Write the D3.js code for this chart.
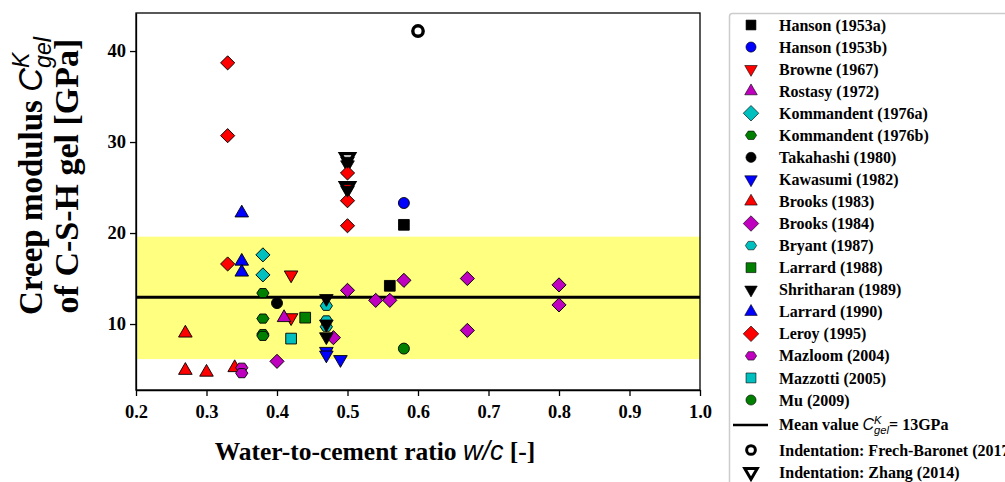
<!DOCTYPE html>
<html><head><meta charset="utf-8">
<script src="https://cdn.jsdelivr.net/npm/d3@7"></script>
<style>body{margin:0;background:#fff}svg{display:block}</style>
</head><body>
<svg id="c" width="1005" height="482"></svg>
<script>
// ---- data ----
const hanson1953a = [[0.56,14.2],[0.58,20.9]];
const hanson1953b = [[0.58,23.3]];
const browne1967 = [[0.42,15.4],[0.42,10.7],[0.5,24.9]];
const rostasy1972 = [[0.41,10.7]];
const kommandent1976a = [[0.38,17.6],[0.38,15.4]];
const kommandent1976b = [[0.38,13.4],[0.38,10.6],[0.38,8.9],[0.38,8.7]];
const takahashi1980 = [[0.4,12.3]];
const kawasumi1982 = [[0.47,7.0],[0.47,6.6],[0.49,6.1]];
const brooks1983 = [[0.27,9.0],[0.27,4.9],[0.3,4.7],[0.34,5.2]];
const brooks1984 = [[0.4,5.9],[0.48,8.5],[0.5,13.7],[0.54,12.6],[0.56,12.6],[0.58,14.8],[0.67,15.0],[0.67,9.3],[0.8,14.3],[0.8,12.1]];
const bryant1987 = [[0.47,12.0],[0.47,10.4],[0.47,9.7]];
const larrard1988 = [[0.44,10.7]];
const shritharan1989 = [[0.47,12.8],[0.47,10.0],[0.47,8.6],[0.5,27.9],[0.5,27.5],[0.5,24.7]];
const larrard1990 = [[0.35,22.2],[0.35,16.9],[0.35,15.7]];
const leroy1995 = [[0.33,38.7],[0.33,30.7],[0.33,16.6],[0.5,26.6],[0.5,23.55],[0.5,20.8]];
const mazloom2004 = [[0.35,5.2],[0.35,4.6]];
const mazzotti2005 = [[0.42,8.4]];
const mu2009 = [[0.58,7.3]];
const frechBaronet2017 = [[0.6,42.2]];
const zhang2014 = [[0.5,28.3],[0.5,25.1]];
const meanValue = 12.95;
const bandRange = [6.15, 19.6];
const xTicks = [0.2,0.3,0.4,0.5,0.6,0.7,0.8,0.9,1.0];
const yTicks = [10,20,30,40];
const xDomain = [0.2, 1.0];
const yDomain = [2.75, 44.18];

const series = [
  {name:"Hanson (1953a)", data:hanson1953a, shape:"square", color:"#000000"},
  {name:"Hanson (1953b)", data:hanson1953b, shape:"circle", color:"#0000ff"},
  {name:"Browne (1967)", data:browne1967, shape:"down", color:"#ff0000"},
  {name:"Rostasy (1972)", data:rostasy1972, shape:"up", color:"#bf00bf"},
  {name:"Kommandent (1976a)", data:kommandent1976a, shape:"diamond", color:"#00bfbf"},
  {name:"Kommandent (1976b)", data:kommandent1976b, shape:"hex", color:"#007f00"},
  {name:"Takahashi (1980)", data:takahashi1980, shape:"circle", color:"#000000"},
  {name:"Kawasumi (1982)", data:kawasumi1982, shape:"down", color:"#0000ff"},
  {name:"Brooks (1983)", data:brooks1983, shape:"up", color:"#ff0000"},
  {name:"Brooks (1984)", data:brooks1984, shape:"diamond", color:"#bf00bf"},
  {name:"Bryant (1987)", data:bryant1987, shape:"hex", color:"#00bfbf"},
  {name:"Larrard (1988)", data:larrard1988, shape:"square", color:"#007f00"},
  {name:"Shritharan (1989)", data:shritharan1989, shape:"down", color:"#000000"},
  {name:"Larrard (1990)", data:larrard1990, shape:"up", color:"#0000ff"},
  {name:"Leroy (1995)", data:leroy1995, shape:"diamond", color:"#ff0000"},
  {name:"Mazloom (2004)", data:mazloom2004, shape:"hex", color:"#bf00bf"},
  {name:"Mazzotti (2005)", data:mazzotti2005, shape:"square", color:"#00bfbf"},
  {name:"Mu (2009)", data:mu2009, shape:"circle", color:"#007f00"}
];
const openSeries = [
  {name:"Indentation: Frech-Baronet (2017)", data:frechBaronet2017, shape:"circle"},
  {name:"Indentation: Zhang (2014)", data:zhang2014, shape:"down"}
];

// ---- layout ----
const svg = d3.select("#c");
const m = {left:136, right:700, top:13, bottom:390};
const x = d3.scaleLinear().domain(xDomain).range([m.left, m.right]);
const y = d3.scaleLinear().domain(yDomain).range([m.bottom, m.top]);

const hexType = {draw(ctx, size){
  const r = Math.sqrt(size*2/(3*Math.sqrt(3)));
  for(let i=0;i<6;i++){const a=i*Math.PI/3; const px=r*Math.cos(a)*1.1, py=r*Math.sin(a)*0.95; i?ctx.lineTo(px,py):ctx.moveTo(px,py);}
  ctx.closePath();
}};
function symPath(shape, scale){
  const s = scale||1;
  switch(shape){
    case "square": return d3.symbol(d3.symbolSquare, 115*s)();
    case "circle": return d3.symbol(d3.symbolCircle, 95*s)();
    case "up": return d3.symbol(d3.symbolTriangle, 80*s)();
    case "down": return d3.symbol(d3.symbolTriangle, 80*s)();
    case "diamond": return d3.symbol(d3.symbolSquare, 100*s)();
    case "hex": return d3.symbol(hexType, 80*s)();
  }
}
function symTransform(shape, cx, cy){
  let t = `translate(${cx},${cy})`;
  if(shape==="down") t += " rotate(180)";
  if(shape==="diamond") t += " rotate(45)";
  return t;
}

// band and mean
svg.append("rect").attr("x", x(xDomain[0])).attr("width", x(xDomain[1])-x(xDomain[0]))
  .attr("y", y(bandRange[1])).attr("height", y(bandRange[0])-y(bandRange[1])).attr("fill","#ffff80");
svg.append("line").attr("x1", x(xDomain[0])).attr("x2", x(xDomain[1]))
  .attr("y1", y(meanValue)).attr("y2", y(meanValue)).attr("stroke","#000").attr("stroke-width",3);

// frame
svg.append("rect").attr("x",m.left).attr("y",m.top).attr("width",m.right-m.left).attr("height",m.bottom-m.top)
  .attr("fill","none").attr("stroke","#000").attr("stroke-width",1.3);

// axes
const xAxis = svg.append("g").attr("transform",`translate(0,${m.bottom})`)
  .call(d3.axisBottom(x).tickValues(xTicks).tickFormat(d3.format(".1f")).tickSize(6).tickSizeOuter(0));
const yAxis = svg.append("g").attr("transform",`translate(${m.left},0)`)
  .call(d3.axisLeft(y).tickValues(yTicks).tickFormat(d3.format("d")).tickSize(6).tickSizeOuter(0));
[xAxis,yAxis].forEach(g=>{
  g.select(".domain").attr("stroke-width",1.3);
  g.selectAll(".tick line").attr("stroke-width",1.3);
  g.selectAll("text").attr("font-family","'Liberation Serif', serif").attr("font-weight","bold")
   .attr("font-size",18.5).attr("fill","#000");
});
xAxis.selectAll("text").attr("dy","1.05em");
yAxis.selectAll("text").attr("x",-10);

// points
const pts = svg.append("g");
series.forEach(s=>{
  pts.selectAll(null).data(s.data).enter().append("path")
    .attr("d", symPath(s.shape)).attr("transform", d=>symTransform(s.shape, x(d[0]), y(d[1])))
    .attr("fill", s.color).attr("stroke","#000").attr("stroke-width",0.9);
});
openSeries.forEach(s=>{
  pts.selectAll(null).data(s.data).enter().append("path")
    .attr("d", s.shape==="circle" ? d3.symbol(d3.symbolCircle, 85)() : symPath(s.shape, 1.0))
    .attr("transform", d=>symTransform(s.shape, x(d[0]), y(d[1])))
    .attr("fill", "none").attr("stroke","#000").attr("stroke-width",3.4);
});

// axis titles
const serif = "'Liberation Serif', 'Times New Roman', serif";
const sans = "'Liberation Sans', Arial, sans-serif";
const xl = svg.append("text").attr("x", 375).attr("y", 460).attr("text-anchor","middle")
  .attr("font-family",serif).attr("font-weight","bold").attr("font-size",25.5);
xl.append("tspan").text("Water-to-cement ratio ");
xl.append("tspan").attr("font-family",sans).attr("font-style","italic").attr("font-weight","normal").attr("font-size",27).text("w/c");
xl.append("tspan").text(" [-]");

function subsup(textSel, base, sup, sub, fs){
  textSel.append("tspan").attr("font-family",sans).attr("font-style","italic").attr("font-weight","normal").text(base);
  const k = textSel.append("tspan").attr("font-family",sans).attr("font-style","italic").attr("font-weight","normal")
    .attr("font-size",fs*0.7).attr("dy",-fs*0.38).text(sup);
  const kw = k.node().getComputedTextLength();
  textSel.append("tspan").attr("font-family",sans).attr("font-style","italic").attr("font-weight","normal")
    .attr("font-size",fs*0.7).attr("dx",-kw).attr("dy",fs*0.66).text(sub);
}
const yl = svg.append("g").attr("transform","translate(42,176) rotate(-90)");
const yl1 = yl.append("text").attr("text-anchor","middle").attr("font-family",serif)
  .attr("font-weight","bold").attr("font-size",33);
yl1.append("tspan").text("Creep modulus ");
subsup(yl1, "C", "K", "gel", 33);
yl.append("text").attr("y",36).attr("text-anchor","middle").attr("font-family",serif)
  .attr("font-weight","bold").attr("font-size",34).text("of C-S-H gel [GPa]");

// legend
const lg = svg.append("g");
lg.append("rect").attr("x",729.5).attr("y",13.5).attr("width",300).attr("height",480).attr("rx",3)
  .attr("fill","#fff").attr("stroke","#cccccc").attr("stroke-width",1.5);
const legY = d3.scalePoint().domain(series.map(s=>s.name)).range([25, 400]);
const lfs = 16;
series.forEach(s=>{
  const cy = legY(s.name);
  lg.append("path").attr("d", symPath(s.shape, s.shape==="diamond"?1.2:0.85))
    .attr("transform", symTransform(s.shape, 751, cy)).attr("fill", s.color).attr("stroke","#000").attr("stroke-width",0.6);
  lg.append("text").attr("x",779).attr("y",cy).attr("dy","0.35em").attr("font-family",serif)
    .attr("font-weight","bold").attr("font-size",lfs).text(s.name);
});
lg.append("line").attr("x1",733).attr("x2",768).attr("y1",425).attr("y2",425).attr("stroke","#000").attr("stroke-width",2.5);
const mt = lg.append("text").attr("x",779).attr("y",425).attr("dy","0.3em").attr("font-family",serif)
  .attr("font-weight","bold").attr("font-size",lfs);
mt.append("tspan").text("Mean value ");
subsup(mt, "C", "K", "gel", lfs);
mt.append("tspan").attr("dy",-lfs*0.28).text("=  13GPa");
const openY = [450, 472];
openSeries.forEach((s,i)=>{
  lg.append("path").attr("d", s.shape==="circle" ? d3.symbol(d3.symbolCircle, 60)() : symPath(s.shape, 0.85))
    .attr("transform", symTransform(s.shape, 751, openY[i])).attr("fill","none").attr("stroke","#000").attr("stroke-width",3);
  lg.append("text").attr("x",779).attr("y",openY[i]).attr("dy","0.35em").attr("font-family",serif)
    .attr("font-weight","bold").attr("font-size",lfs).text(s.name);
});
</script>
</body></html>
